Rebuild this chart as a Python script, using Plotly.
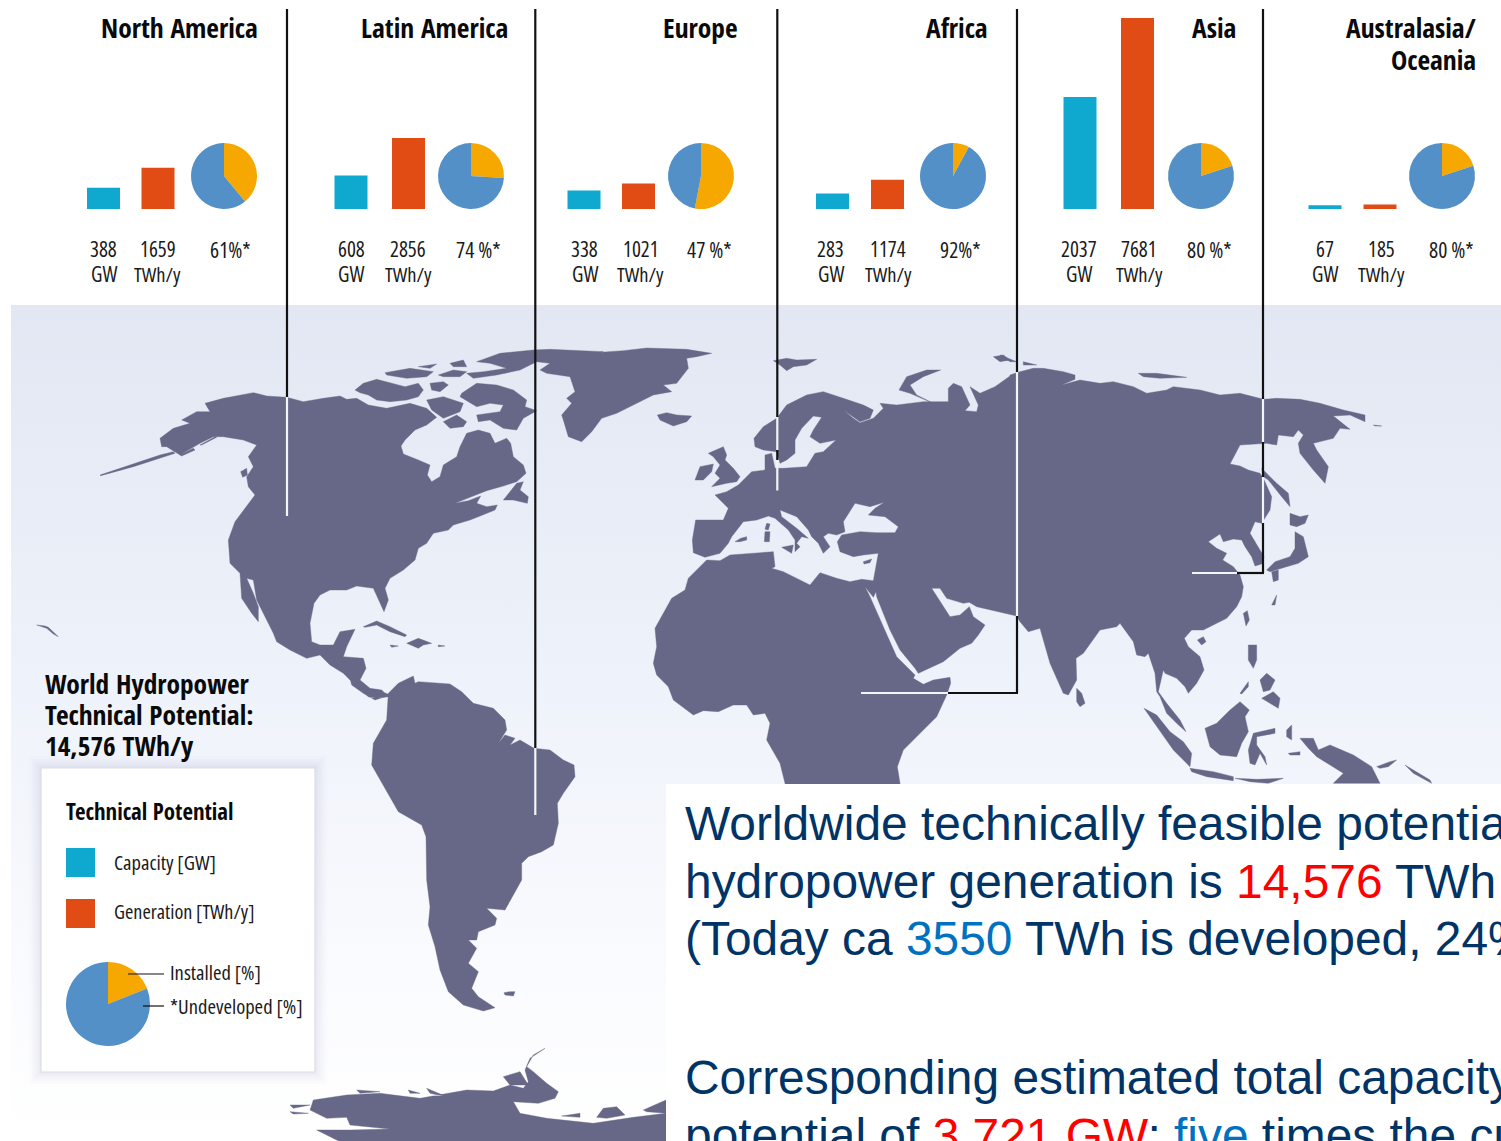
import plotly.graph_objects as go

W, H = 1501, 1141

# ---- regional figures ----
REGIONS = ["North America", "Latin America", "Europe", "Africa", "Asia", "Australasia/<br>Oceania"]
CAPACITY_GW = [388, 608, 338, 283, 2037, 67]
GENERATION_TWH = [1659, 2856, 1021, 1174, 7681, 185]
UNDEVELOPED_PCT = [61, 74, 47, 92, 80, 80]
UNDEVELOPED_LABELS = ["61%*", "74 %*", "47 %*", "92%*", "80 %*", "80 %*"]
LEGEND_PIE = [81, 19]

# ---- panel placement, in page pixels ----
CAP_X = [103.5, 351, 584.5, 830.5, 1078.5, 1324.5]
GEN_X = [157.5, 408, 640.5, 888, 1139, 1381]
PIE_X = [224, 471, 701, 953, 1201, 1442]
PCT_X = [230, 478, 709, 960, 1209, 1451]
BAR_CAP_X = [103.5, 351, 584, 832.5, 1080, 1325]
BAR_GEN_X = [158, 408.5, 638.5, 887.5, 1137.5, 1380]
TITLE_RIGHT = [257, 507, 737, 987, 1235, 1475]
BASELINE_PX = 209
BAR_W = 33
PX_PER_GW = 0.055
PX_PER_TWH = 0.02487

COL_CAP, COL_GEN = "#0fa9d0", "#e04c14"
COL_BLUE, COL_AMBER = "#5390c8", "#f7a800"
LAND = "#676887"
CONDENSED_BOLD = "Open Sans Condensed"
BODY = "Open Sans"

# ---- coastline outlines: (origin, points in third-of-a-pixel units) ----
O_AM = (90, 340)
O_EU = (530, 340)
O_AS = (1000, 340)
O_SA = (350, 660)
O_AF = (640, 540)
O_AN = (280, 1030)

NORTH_AMERICA = [(345,190),(400,175),(490,158),(530,168),(590,172),(640,185),(700,175),(750,168),(770,178),(800,175),(835,195),(890,205),(960,190),(1010,205),(1040,232),(1010,255),(975,270),(945,300),(933,318),(940,342),(985,360),(1020,375),(1012,405),(1025,425),(1050,410),(1060,375),(1100,350),(1110,320),(1130,280),(1165,270),(1200,280),(1215,310),(1250,295),(1262,310),(1270,350),(1300,375),(1308,400),(1280,425),(1240,438),(1190,452),(1140,472),(1095,490),(1135,482),(1172,468),(1160,490),(1190,500),(1222,495),(1215,510),(1165,530),(1140,540),(1090,555),(1075,570),(1030,580),(1010,610),(985,625),(975,660),(940,690),(900,715),(885,745),(895,780),(882,815),(870,790),(850,745),(800,738),(770,750),(720,750),(690,765),(672,790),(660,850),(665,905),(690,915),(730,915),(750,875),(795,868),(770,920),(760,950),(820,955),(828,985),(810,1020),(840,1045),(875,1050),(895,1070),(860,1075),(835,1070),(800,1040),(780,1020),(760,1000),(720,975),(690,945),(650,955),(600,930),(560,905),(550,880),(530,840),(500,780),(490,720),(470,715),(490,760),(505,800),(505,845),(485,820),(455,775),(450,700),(420,670),(415,600),(435,545),(470,500),(495,465),(475,440),(470,410),(490,380),(475,350),(500,315),(460,300),(400,290),(370,290),(330,310),(270,345),(230,320),(215,320),(210,295),(250,265),(300,250),(275,240),(320,215),(360,215)]
ALEUTIANS = [(30,405),(120,375),(210,345),(250,335),(255,340),(130,380),(32,407)]
KODIAK = [(270,345),(310,325),(315,330),(275,348)]
PENINSULA_SPIT = [(330,315),(375,290),(380,292),(335,315)]
VANCOUVER = [(452,395),(470,385),(472,405),(458,412)]
VICTORIA = [(795,150),(820,130),(860,118),(900,128),(945,140),(985,130),(1000,150),(985,170),(950,180),(900,185),(860,180),(835,165),(810,158)]
BANKS = [(885,98),(960,85),(1030,95),(1010,110),(950,115),(890,105)]
MELVILLE = [(985,80),(1040,72),(1020,85)]
BATHURST = [(1045,105),(1090,90),(1130,95),(1110,110),(1060,110)]
AXEL = [(1080,70),(1120,60),(1130,80),(1090,80)]
SOMERSET = [(1020,130),(1060,125),(1075,135),(1050,155),(1025,150)]
BOOTHIA = [(1010,180),(1060,170),(1120,190),(1110,215),(1060,235),(1025,210)]
BAFFIN = [(1115,160),(1160,130),(1220,135),(1270,150),(1310,180),(1305,200),(1340,212),(1300,235),(1280,270),(1240,265),(1200,240),(1165,245),(1160,225),(1230,215),(1240,195),(1200,190),(1160,200),(1110,170)]
ELLESMERE = [(1160,65),(1230,40),(1330,30),(1380,28),(1540,35),(1450,55),(1380,70),(1340,65),(1290,90),(1220,105),(1150,115),(1130,100),(1180,95),(1250,85),(1200,70)]
SOUTHAMPTON = [(1060,245),(1100,225),(1130,245),(1120,260),(1080,265)]
NEWFOUNDLAND = [(1240,480),(1280,430),(1300,425),(1290,450),(1315,470),(1312,490),(1270,480)]
CUBA = [(820,860),(860,843),(900,860),(950,885),(945,890),(900,875),(860,855),(825,862)]
HISPANIOLA = [(950,910),(985,895),(1025,910),(1000,915),(985,925),(960,915)]
JAMAICA = [(900,915),(925,918),(905,922)]
PUERTO_RICO = [(1045,915),(1065,918),(1045,920)]
HAWAII = [(-160,855),(-135,858),(-125,862),(-95,890),(-110,882),(-130,865)]

GREENLAND = [(30,90),(60,70),(130,55),(170,40),(280,32),(350,24),(470,28),(545,40),(500,50),(470,55),(475,85),(440,130),(400,135),(425,155),(370,165),(320,190),(260,220),(215,235),(185,275),(155,305),(115,290),(100,240),(95,225),(125,190),(110,175),(135,155),(120,110),(50,100)]
ICELAND = [(382,225),(410,218),(440,225),(485,228),(470,245),(430,258),(390,240)]
SVALBARD = [(730,62),(770,55),(800,60),(860,58),(830,75),(790,80),(770,92),(750,75)]
IRELAND = [(495,420),(510,380),(550,372),(545,395),(520,420)]
BRITAIN = [(535,340),(580,320),(590,345),(585,360),(610,385),(630,410),(620,425),(590,430),(545,440),(570,415),(555,400),(570,375),(550,350)]
SICILY = [(755,622),(790,615),(785,640)]
SARDINIA = [(705,575),(720,575),(718,605),(703,605)]
CORSICA = [(710,550),(720,552),(715,570),(705,568)]
BALEARICS = [(615,605),(632,595),(650,590),(650,600),(630,605)]
NOVAYA_ZEMLYA = [(1107,150),(1130,110),(1190,90),(1232,90),(1180,110),(1140,135),(1160,165),(1210,190),(1140,160),(1110,150)]
FRANZ_JOSEF = [(1390,50),(1420,45),(1440,60),(1410,65)]
CYPRUS = [(1000,665),(1025,657),(1020,668),(1002,672)]

# Eurasia and Africa share one closed ring, walked in stretches.
RING_NORTH_EUROPE = [(672,295),(700,260),(740,235),(770,195),(830,165),(880,155),(940,175),(1000,195),(1030,210),(1020,235),(990,245),(960,225),(940,210),(970,235),(990,248),(1030,235),(1060,205),(1050,190),(1100,195),(1180,185),(1210,185),(1255,185),(1255,145),(1270,130),(1295,140),(1310,170),(1320,195),(1305,212),(1340,215),(1345,195),(1330,165),(1320,140),(1350,160),(1395,140),(1440,108)]
RING_PACIFIC_ASIA = [(30,105),(60,95),(100,85),(130,85),(190,95),(225,105),(225,118),(185,135),(240,120),(300,130),(340,125),(400,140),(440,160),(500,150),(520,140),(600,150),(660,165),(720,160),(790,178),(830,175),(900,178),(960,190),(1030,210),(1095,225),(1095,245),(1050,225),(1000,228),(1050,268),(1020,265),(1000,295),(960,305),(940,310),(950,330),(985,380),(975,430),(940,390),(900,340),(895,310),(910,285),(895,270),(880,290),(835,285),(830,315),(800,310),(720,315),(690,372),(720,378),(745,390),(780,400),(790,415),(815,470),(810,510),(785,550),(765,545),(750,580),(770,615),(792,650),(785,672),(765,678),(755,650),(735,620),(725,600),(700,597),(670,605),(660,582),(625,605),(650,625),(680,640),(668,660),(700,680),(720,705),(730,740),(725,770),(710,800),(680,835),(650,850),(610,870),(575,870),(553,895),(565,920),(600,950),(612,990),(590,1030),(565,1060),(555,1040),(530,1015),(495,1000),(490,990),(480,1030),(475,1055),(500,1090),(540,1140),(558,1175),(530,1150),(500,1120),(480,1070),(470,1055),(465,1000),(445,940),(435,950),(410,945),(400,905),(360,850),(350,860),(300,870),(250,940),(228,955),(230,1020),(205,1065),(190,1060),(150,970),(120,865),(85,875),(60,845),(50,828)]
RING_ARABIA = [(1400,813),(1340,800),(1318,787),(1300,790),(1250,775),(1230,745),(1205,745),(1240,800),(1260,830),(1290,825),(1310,805),(1318,800),(1330,830),(1365,855),(1345,885),(1325,910),(1290,925),(1240,965),(1165,1000),(1155,985),(1110,930),(1080,870),(1040,770),(1038,755),(1030,772),(1005,740),(1020,770),(1070,880),(1100,950),(1155,1005)]
RING_AFRICA = [(820,415),(850,433),(880,420),(930,412),(932,430),(920,465),(890,530),(850,570),(810,610),(790,630),(772,680),(780,730),(782,790),(430,790),(435,730),(420,670),(380,600),(390,550),(375,520),(340,525),(320,495),(280,495),(235,515),(190,512),(160,525),(100,480),(85,440),(50,405),(40,370),(50,320),(45,265),(70,220),(95,175),(135,150),(145,115),(200,60),(240,62),(270,45),(330,40),(400,35),(405,80),(395,85),(430,95),(470,115),(510,135),(540,98),(590,115),(630,125),(665,118),(700,122),(715,40)]
RING_SOUTH_EUROPE = [(1000,645),(970,650),(930,635),(922,605),(935,585),(990,575),(1040,578),(1095,578),(1105,560),(1065,530),(1015,525),(1035,505),(1063,487),(1020,500),(975,490),(940,545),(945,575),(920,585),(895,580),(880,590),(900,620),(880,640),(865,610),(845,590),(835,570),(800,530),(750,510),(755,530),(800,565),(835,595),(815,590),(800,610),(810,620),(795,635),(795,600),(775,570),(735,535),(715,528),(680,540),(640,545),(605,590),(595,610),(570,640),(525,652),(490,638),(487,600),(497,540),(580,540),(595,505),(555,465),(590,455),(625,435),(665,395),(705,390),(705,345),(725,340),(735,385),(760,385),(830,380),(855,340),(880,335),(918,300),(870,310),(840,290),(850,270),(875,232),(850,228),(815,265),(795,300),(795,340),(770,360),(750,370),(740,335),(700,330),(675,320)]

SRI_LANKA = [(230,1045),(245,1060),(255,1090),(240,1100),(230,1085)]
HAINAN = [(592,900),(610,890),(618,905),(605,915)]
TAIWAN = [(730,820),(742,812),(748,840),(738,858)]
SAKHALIN = [(785,385),(830,430),(865,460),(870,500),(845,470),(805,420),(790,410)]
HOKKAIDO = [(870,520),(900,530),(925,525),(915,550),(890,560),(870,555)]
HONSHU = [(885,575),(910,590),(925,650),(895,670),(860,680),(830,690),(810,695),(800,690),(825,665),(870,650),(885,625),(885,595)]
KYUSHU = [(815,695),(835,690),(835,720),(820,725)]
RYUKYU = [(815,795),(830,765),(825,795)]
BORNEO = [(615,1165),(650,1150),(690,1110),(720,1085),(748,1110),(735,1130),(745,1175),(725,1210),(710,1250),(660,1245),(630,1220)]
SUMATRA = [(432,1105),(470,1125),(510,1175),(550,1205),(575,1240),(570,1280),(520,1230),(470,1160)]
JAVA = [(570,1285),(640,1295),(700,1310),(700,1322),(620,1310),(575,1295)]
SUNDA = [(705,1315),(770,1318),(850,1315),(805,1330),(750,1325)]
SULAWESI = [(760,1180),(825,1165),(825,1180),(770,1190),(770,1215),(795,1250),(800,1275),(780,1240),(765,1275),(750,1270),(745,1230)]
NEW_GUINEA = [(900,1195),(940,1195),(955,1230),(990,1215),(1060,1245),(1115,1280),(1140,1330),(1000,1330),(1030,1300),(950,1250),(925,1225)]
NEW_BRITAIN = [(1130,1280),(1170,1265),(1190,1260),(1165,1280),(1140,1285)]
LUZON = [(745,915),(770,915),(770,960),(760,985),(745,960)]
VISAYAS = [(780,1020),(800,1000),(825,1020),(810,1050),(790,1055)]
MINDANAO = [(785,1075),(820,1055),(840,1075),(835,1105),(810,1090)]
PALAWAN = [(720,1060),(745,1025),(745,1040),(725,1062)]
HALMAHERA = [(860,1170),(875,1155),(875,1200),(860,1190)]
SOLOMONS = [(1215,1275),(1290,1320),(1295,1330),(1240,1300)]
SERAM = [(865,1240),(900,1235),(900,1245),(870,1245)]
SEVERNAYA = [(415,100),(470,100),(560,112),(480,115),(430,110)]
KOLGUEV = [(0,45),(50,65),(30,65)]
NEW_SIBERIA = [(70,65),(110,75),(70,75)]
WRANGEL = [(1120,255),(1145,258),(1125,258)]

SOUTH_AMERICA = [(115,100),(145,70),(190,48),(195,70),(205,65),(240,68),(300,72),(335,95),(370,130),(430,145),(465,180),(470,210),(445,250),(465,225),(495,235),(480,255),(510,240),(552,265),(600,270),(640,300),(672,315),(675,350),(640,400),(622,430),(625,490),(610,555),(575,575),(535,590),(515,610),(515,660),(480,720),(465,750),(410,745),(440,775),(435,795),(385,815),(380,840),(355,840),(380,865),(355,910),(385,935),(365,985),(385,1010),(435,1043),(400,1053),(340,1035),(295,995),(270,930),(255,860),(235,795),(240,740),(230,660),(228,530),(215,495),(145,455),(120,410),(65,315),(70,250),(110,180)]
ISTHMUS = [(0,55),(20,65),(45,90),(85,90),(120,105),(75,120),(40,100),(5,75)]
FALKLANDS = [(462,998),(478,995),(495,995),(490,1008),(465,1005)]

ANTARCTICA = [(100,210),(200,195),(300,190),(420,205),(560,180),(640,183),(690,165),(730,175),(745,155),(735,120),(750,85),(795,55),(760,75),(740,110),(760,125),(800,160),(835,185),(825,205),(775,220),(700,215),(720,250),(800,265),(940,280),(1060,262),(1158,250),(1158,335),(180,335),(110,300),(210,300),(330,297),(210,285),(200,262),(140,265),(90,240)]
ANT_ISLANDS = [
    [(30,225),(90,225),(40,235)], [(30,245),(85,250),(40,252)],
    [(845,258),(900,250),(900,262)], [(950,262),(970,235),(1010,230),(1035,255),(980,265)],
    [(1090,240),(1158,210),(1158,250),(1100,245)],
    [(230,180),(300,185),(240,190)], [(385,180),(420,190),(390,190)],
    [(440,175),(500,200),(450,190)], [(670,140),(720,125),(745,165),(690,165)],
]

LAND_GROUPS = [
    (O_AM, [NORTH_AMERICA, ALEUTIANS, KODIAK, PENINSULA_SPIT, VANCOUVER, VICTORIA, BANKS, MELVILLE, BATHURST, AXEL,
            SOMERSET, BOOTHIA, BAFFIN, ELLESMERE, SOUTHAMPTON, NEWFOUNDLAND, CUBA, HISPANIOLA, JAMAICA,
            PUERTO_RICO, HAWAII]),
    (O_EU, [GREENLAND, ICELAND, SVALBARD, IRELAND, BRITAIN, SICILY, SARDINIA, CORSICA, BALEARICS,
            NOVAYA_ZEMLYA, FRANZ_JOSEF, CYPRUS]),
    (O_AS, [SRI_LANKA, HAINAN, TAIWAN, SAKHALIN, HOKKAIDO, HONSHU, KYUSHU, RYUKYU, BORNEO, SUMATRA, JAVA,
            SUNDA, SULAWESI, NEW_GUINEA, NEW_BRITAIN, LUZON, VISAYAS, MINDANAO, PALAWAN, HALMAHERA,
            SOLOMONS, SERAM, SEVERNAYA, KOLGUEV, NEW_SIBERIA, WRANGEL]),
    (O_SA, [SOUTH_AMERICA, ISTHMUS, FALKLANDS]),
    (O_AN, [ANTARCTICA] + ANT_ISLANDS),
]
EURAFRASIA = [(O_EU, RING_NORTH_EUROPE), (O_AS, RING_PACIFIC_ASIA), (O_EU, RING_ARABIA),
              (O_AF, RING_AFRICA), (O_EU, RING_SOUTH_EUROPE)]


def to_page(origin, pts):
    return [(origin[0] + p[0] / 3, origin[1] + p[1] / 3) for p in pts]


land_x, land_y = [], []


def add_ring(pts):
    land_x.extend([p[0] for p in pts] + [pts[0][0], None])
    land_y.extend([p[1] for p in pts] + [pts[0][1], None])


for origin, rings in LAND_GROUPS:
    for ring in rings:
        add_ring(to_page(origin, ring))
add_ring([p for origin, stretch in EURAFRASIA for p in to_page(origin, stretch)])


def rect_trace(x0, y0, x1, y1, **kw):
    return go.Scatter(x=[x0, x1, x1, x0, x0], y=[y0, y0, y1, y1, y0], mode="lines", fill="toself",
                      hoverinfo="skip", showlegend=False, **kw)


fig = go.Figure()

# ocean backdrop fading to white towards the bottom
fig.add_trace(rect_trace(11, 305, W, H, line=dict(width=0),
                         fillgradient=dict(type="vertical", start=305, stop=H,
                                           colorscale=[[0, "#e2e7f3"], [0.45, "#eef2fa"],
                                                       [0.8, "#fafbfe"], [1, "#ffffff"]])))
# land masses
fig.add_trace(go.Scatter(x=land_x, y=land_y, mode="lines", fill="toself", fillcolor=LAND,
                         line=dict(width=0.4, color=LAND), hoverinfo="skip", showlegend=False))
# text panel
fig.add_trace(rect_trace(666, 784, W + 5, H + 5, fillcolor="#ffffff", line=dict(width=0)))
# legend card with a soft shadow
for grow in (12, 9, 7, 5, 3, 1.5):
    fig.add_trace(rect_trace(41 - grow, 768 - grow, 315 + grow, 1072 + grow,
                             fillcolor="rgba(70,70,110,0.016)", line=dict(width=0)))
fig.add_trace(rect_trace(41, 768, 315, 1072, fillcolor="#ffffff", line=dict(width=1.2, color="#dcdde4")))

# regional bars, one value axis per unit
fig.add_trace(go.Bar(x=BAR_CAP_X, y=CAPACITY_GW, width=BAR_W, marker=dict(color=COL_CAP, line=dict(width=0)),
                     yaxis="y2", showlegend=False, hoverinfo="skip"))
fig.add_trace(go.Bar(x=BAR_GEN_X, y=GENERATION_TWH, width=BAR_W, marker=dict(color=COL_GEN, line=dict(width=0)),
                     yaxis="y3", showlegend=False, hoverinfo="skip"))


def pie(cx, cy, r, undeveloped, installed):
    fig.add_trace(go.Pie(values=[installed, undeveloped], sort=False, direction="clockwise", rotation=0,
                         marker=dict(colors=[COL_AMBER, COL_BLUE], line=dict(width=0)),
                         textinfo="none", hoverinfo="skip", showlegend=False,
                         domain=dict(x=[(cx - r) / W, (cx + r) / W],
                                     y=[1 - (cy + r) / H, 1 - (cy - r) / H])))


for px, und in zip(PIE_X, UNDEVELOPED_PCT):
    pie(px, 176, 33, und, 100 - und)
pie(108, 1004, 42, LEGEND_PIE[0], LEGEND_PIE[1])

# leader lines: (colour, x0, y0, x1, y1)
BLACK, WHITE = "#111111", "#f4f5f8"
LEADERS = [
    (BLACK, 287, 9, 287, 397), (WHITE, 287, 397, 287, 516),
    (BLACK, 535.3, 9, 535.3, 748), (WHITE, 535.3, 748, 535.3, 815),
    (BLACK, 777.3, 9, 777.3, 417), (WHITE, 777.3, 417, 777.3, 450),
    (BLACK, 777.3, 450, 777.3, 460), (WHITE, 777.3, 460, 777.3, 490.5),
    (BLACK, 1017, 9, 1017, 372), (WHITE, 1017, 372, 1017, 616),
    (BLACK, 1017, 616, 1017, 693), (BLACK, 948, 693, 1018, 693), (WHITE, 861, 693, 948, 693),
    (BLACK, 1263, 9, 1263, 399), (WHITE, 1263, 399, 1263, 442),
    (BLACK, 1263, 442, 1263, 477), (WHITE, 1263, 477, 1263, 523),
    (BLACK, 1263, 523, 1263, 573), (BLACK, 1237, 573, 1264, 573), (WHITE, 1192, 573, 1237, 573),
]
shapes = [dict(type="line", x0=a, y0=b, x1=c, y1=d, xref="x", yref="y", layer="above",
               line=dict(color=col, width=2.2)) for col, a, b, c, d in LEADERS]
# legend swatches and pointers
shapes += [
    dict(type="rect", x0=66, x1=95, y0=848, y1=877, xref="x", yref="y", fillcolor=COL_CAP, line=dict(width=0)),
    dict(type="rect", x0=66, x1=95, y0=899, y1=928, xref="x", yref="y", fillcolor=COL_GEN, line=dict(width=0)),
    dict(type="line", x0=128, x1=164, y0=974, y1=974, xref="x", yref="y", line=dict(color=BLACK, width=1.2)),
    dict(type="line", x0=143, x1=164, y0=1006, y1=1006, xref="x", yref="y", line=dict(color=BLACK, width=1.2)),
]

NUDGE = {"left": -2.5, "right": 2.5, "center": 0}


def label(x, y, text, size, anchor="center", family=BODY, color="#1a1a1a", narrow=True):
    if narrow:
        text = f'<span style="font-stretch:condensed">{text}</span>'
    fig.add_annotation(x=x + NUDGE[anchor], y=y, xref="x", yref="y", text=text,
                       showarrow=False, xanchor=anchor, yanchor="middle", align=anchor,
                       font=dict(family=family, size=size, color=color))


def heading(x, y, text, size, anchor="left"):
    label(x, y, text, size, anchor, CONDENSED_BOLD, "#0a0a0a", narrow=False)


for i, name in enumerate(REGIONS):
    for row, part in enumerate(name.split("<br>")):
        heading(TITLE_RIGHT[i], 27 + 32 * row, part, 27.4, "right")
    label(CAP_X[i], 249, str(CAPACITY_GW[i]), 21)
    label(CAP_X[i], 273.5, "GW", 21)
    label(GEN_X[i], 249, str(GENERATION_TWH[i]), 21)
    label(GEN_X[i], 273.5, "TWh/y", 20.5)
    label(PCT_X[i], 249, UNDEVELOPED_LABELS[i], 21.5)

heading(45, 683.5, "World Hydropower", 27.4)
heading(45, 714.5, "Technical Potential:", 27.4)
heading(45, 745.5, "14,576 TWh/y", 27.4)
heading(66, 811.5, "Technical Potential", 22.8)
label(114, 862, "Capacity [GW]", 20.6, "left")
label(114, 911, "Generation [TWh/y]", 20.2, "left")
label(170, 972, "Installed [%]", 20.6, "left")
label(170, 1006, "*Undeveloped [%]", 20.6, "left")

# headline statements
NAVY, RED, BLUE = "#003366", "#ff0000", "#0070c0"


def tint(word, colour):
    return f'<span style="color:{colour}">{word}</span>'


STATEMENTS = [
    (823, "Worldwide technically feasible potential for"),
    (881, f"hydropower generation is {tint('14,576', RED)} TWh per year"),
    (938.5, f"(Today ca {tint('3550', BLUE)} TWh is developed, 24%)"),
    (1077, "Corresponding estimated total capacity"),
    (1135, f"potential of {tint('3,721 GW', RED)}; {tint('five', BLUE)} times the current"),
]
for y, line in STATEMENTS:
    label(685.5, y, line, 47.9, "left", "Liberation Sans", NAVY, narrow=False)

fig.update_layout(
    width=W, height=H, margin=dict(l=0, r=0, t=0, b=0), autosize=False,
    paper_bgcolor="#ffffff", plot_bgcolor="rgba(0,0,0,0)", barmode="overlay", showlegend=False,
    shapes=shapes,
    xaxis=dict(range=[0, W], domain=[0, 1], visible=False, fixedrange=True),
    yaxis=dict(range=[H, 0], domain=[0, 1], visible=False, fixedrange=True),
    yaxis2=dict(domain=[1 - BASELINE_PX / H, 1], range=[0, BASELINE_PX / PX_PER_GW], visible=False,
                anchor="x", fixedrange=True),
    yaxis3=dict(domain=[1 - BASELINE_PX / H, 1], range=[0, BASELINE_PX / PX_PER_TWH], visible=False,
                anchor="x", fixedrange=True),
)

fig.write_html("out.html", config=dict(displayModeBar=False))
